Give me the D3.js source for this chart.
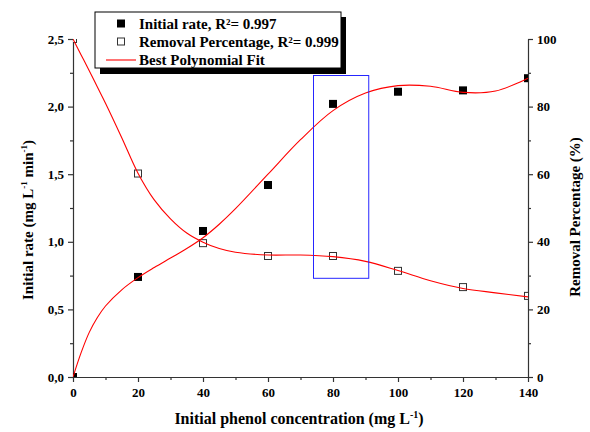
<!DOCTYPE html>
<html><head><meta charset="utf-8">
<script src="https://cdn.jsdelivr.net/npm/d3@7"></script>
<style>
html,body{margin:0;padding:0;background:#fff;}
svg text{font-family:"Liberation Serif","Times New Roman",serif;font-weight:bold;fill:#000;}
</style></head>
<body>
<svg id="chart" width="590" height="432"></svg>
<script>
// ---- data ----
const concentration = [0, 20, 40, 60, 80, 100, 120, 140];
const initialRate   = [0, 0.74, 1.08, 1.42, 2.02, 2.11, 2.12, 2.21];
const removalPct    = [100, 60.2, 39.6, 35.8, 35.8, 31.4, 26.6, 24.0];

const fitConc    = [0, 2.5, 5, 7.5, 10, 15, 20, 25, 30, 35, 40, 45, 50, 60, 70, 80, 90, 100, 110, 120, 130, 140];
const fitRate    = [0, 0.18, 0.33, 0.44, 0.525, 0.645, 0.735, 0.81, 0.88, 0.95, 1.03, 1.13, 1.245, 1.50, 1.755, 1.97, 2.10, 2.155, 2.15, 2.105, 2.115, 2.21];
const fitRemoval = [100, 95.3, 90.6, 85.8, 81, 70.8, 60.3, 52.4, 46.8, 42.6, 39.9, 38.0, 36.9, 36.1, 36.1, 35.6, 34.2, 31.5, 28.5, 26.2, 24.9, 23.7];

const xTicks      = [0, 20, 40, 60, 80, 100, 120, 140];
const leftTicks   = [0, 0.5, 1.0, 1.5, 2.0, 2.5];
const rightTicks  = [0, 20, 40, 60, 80, 100];

const highlightConc = [74, 91];      // blue box, x range
const highlightRate = [0.73, 2.23];  // blue box, y range (left axis)

const legendLabels = ["Initial rate, R²= 0.997", "Removal Percentage, R²= 0.999", "Best Polynomial Fit"];

// ---- layout ----
const svg = d3.select("#chart");
const x  = d3.scaleLinear().domain([0, 140]).range([73, 528]);
const yL = d3.scaleLinear().domain([0, 2.5]).range([377, 39]);
const yR = d3.scaleLinear().domain([0, 100]).range([377, 39]);
const axisColor = "#333";
const commaFmt = d => d3.format(".1f")(d).replace(".", ",");

svg.append("defs").append("clipPath").attr("id", "plotClip")
  .append("rect").attr("x", x(0)).attr("y", yL(2.5))
  .attr("width", x(140) - x(0)).attr("height", yL(0) - yL(2.5));

function styleAxis(g) {
  g.selectAll("path,line").attr("stroke", axisColor).attr("stroke-width", 1.2);
  g.selectAll("text").style("font-size", "13px").style("font-family", '"Liberation Serif","Times New Roman",serif').style("font-weight", "bold").attr("fill", "#000");
}

// minor ticks
svg.append("g").attr("transform", `translate(0,${yL(0)})`)
  .call(d3.axisBottom(x).tickValues(d3.range(10, 140, 20)).tickSize(3).tickFormat("").tickSizeOuter(0))
  .call(g => g.select(".domain").remove()).call(styleAxis);
svg.append("g").attr("transform", `translate(${x(0)},0)`)
  .call(d3.axisLeft(yL).tickValues(d3.range(0.25, 2.5, 0.5)).tickSize(3).tickFormat("").tickSizeOuter(0))
  .call(g => g.select(".domain").remove()).call(styleAxis);
svg.append("g").attr("transform", `translate(${x(140)},0)`)
  .call(d3.axisRight(yR).tickValues(d3.range(10, 100, 20)).tickSize(3).tickFormat("").tickSizeOuter(0))
  .call(g => g.select(".domain").remove()).call(styleAxis);

// major axes
svg.append("g").attr("transform", `translate(0,${yL(0)})`)
  .call(d3.axisBottom(x).tickValues(xTicks).tickSize(5).tickPadding(6).tickSizeOuter(0))
  .call(styleAxis);
svg.append("g").attr("transform", `translate(${x(0)},0)`)
  .call(d3.axisLeft(yL).tickValues(leftTicks).tickSize(5).tickPadding(4).tickFormat(commaFmt).tickSizeOuter(0))
  .call(styleAxis);
svg.append("g").attr("transform", `translate(${x(140)},0)`)
  .call(d3.axisRight(yR).tickValues(rightTicks).tickSize(5).tickPadding(4).tickSizeOuter(0))
  .call(styleAxis);

// axis titles
const xt = svg.append("text").attr("x", 299).attr("y", 424).attr("text-anchor", "middle").style("font-size", "16px");
xt.append("tspan").text("Initial phenol concentration (mg L");
xt.append("tspan").attr("dy", -6).style("font-size", "10px").text("-1");
xt.append("tspan").attr("dy", 6).text(")");

const ylt = svg.append("text").attr("transform", "translate(33,220) rotate(-90)").attr("text-anchor", "middle").style("font-size", "15px");
ylt.append("tspan").text("Initial rate (mg L");
ylt.append("tspan").attr("dy", -6).style("font-size", "9px").text("-1");
ylt.append("tspan").attr("dy", 6).text(" min");
ylt.append("tspan").attr("dy", -6).style("font-size", "9px").text("-1");
ylt.append("tspan").attr("dy", 6).text(")");

svg.append("text").attr("transform", "translate(580,217) rotate(-90)").attr("text-anchor", "middle")
  .style("font-size", "15px").text("Removal Percentage (%)");

// plot content (clipped)
const plot = svg.append("g").attr("clip-path", "url(#plotClip)");

const rateData = concentration.map((c, i) => ({ c, v: initialRate[i] }));
const remData  = concentration.map((c, i) => ({ c, v: removalPct[i] }));

plot.selectAll("rect.rate").data(rateData).join("rect").attr("class", "rate")
  .attr("x", d => x(d.c) - 4).attr("y", d => yL(d.v) - 4)
  .attr("width", 8).attr("height", 8).attr("fill", "#000");

plot.selectAll("rect.rem").data(remData).join("rect").attr("class", "rem")
  .attr("x", d => x(d.c) - 3.5).attr("y", d => yR(d.v) - 3.5)
  .attr("width", 7).attr("height", 7).attr("fill", "#fff").attr("stroke", "#333").attr("stroke-width", 1);

const fitRateData = fitConc.map((c, i) => ({ c, v: fitRate[i] }));
const fitRemData  = fitConc.map((c, i) => ({ c, v: fitRemoval[i] }));

plot.append("path").datum(fitRateData)
  .attr("d", d3.line().x(d => x(d.c)).y(d => yL(d.v)).curve(d3.curveCatmullRom))
  .attr("fill", "none").attr("stroke", "#ff0000").attr("stroke-width", 1.1);
plot.append("path").datum(fitRemData)
  .attr("d", d3.line().x(d => x(d.c)).y(d => yR(d.v)).curve(d3.curveCatmullRom))
  .attr("fill", "none").attr("stroke", "#ff0000").attr("stroke-width", 1.1);

// highlight box
svg.append("rect")
  .attr("x", x(highlightConc[0])).attr("y", yL(highlightRate[1]))
  .attr("width", x(highlightConc[1]) - x(highlightConc[0]))
  .attr("height", yL(highlightRate[0]) - yL(highlightRate[1]))
  .attr("fill", "none").attr("stroke", "#2626ff").attr("stroke-width", 1);

// legend
const lg = svg.append("g");
lg.append("rect").attr("x", 100).attr("y", 17).attr("width", 246).attr("height", 57).attr("fill", "#000");
lg.append("rect").attr("x", 95).attr("y", 12).attr("width", 246).attr("height", 56).attr("fill", "#fff").attr("stroke", "#000").attr("stroke-width", 1);
lg.append("rect").attr("x", 117).attr("y", 19.5).attr("width", 8).attr("height", 8).attr("fill", "#000");
lg.append("rect").attr("x", 117.5).attr("y", 38).attr("width", 7).attr("height", 7).attr("fill", "#fff").attr("stroke", "#333");
lg.append("line").attr("x1", 106).attr("x2", 136).attr("y1", 60).attr("y2", 60).attr("stroke", "#ff0000").attr("stroke-width", 1.1);
legendLabels.forEach((t, i) => {
  lg.append("text").attr("x", 139).attr("y", 28.5 + i * 18).style("font-size", "15px").text(t);
});
</script>
</body></html>
